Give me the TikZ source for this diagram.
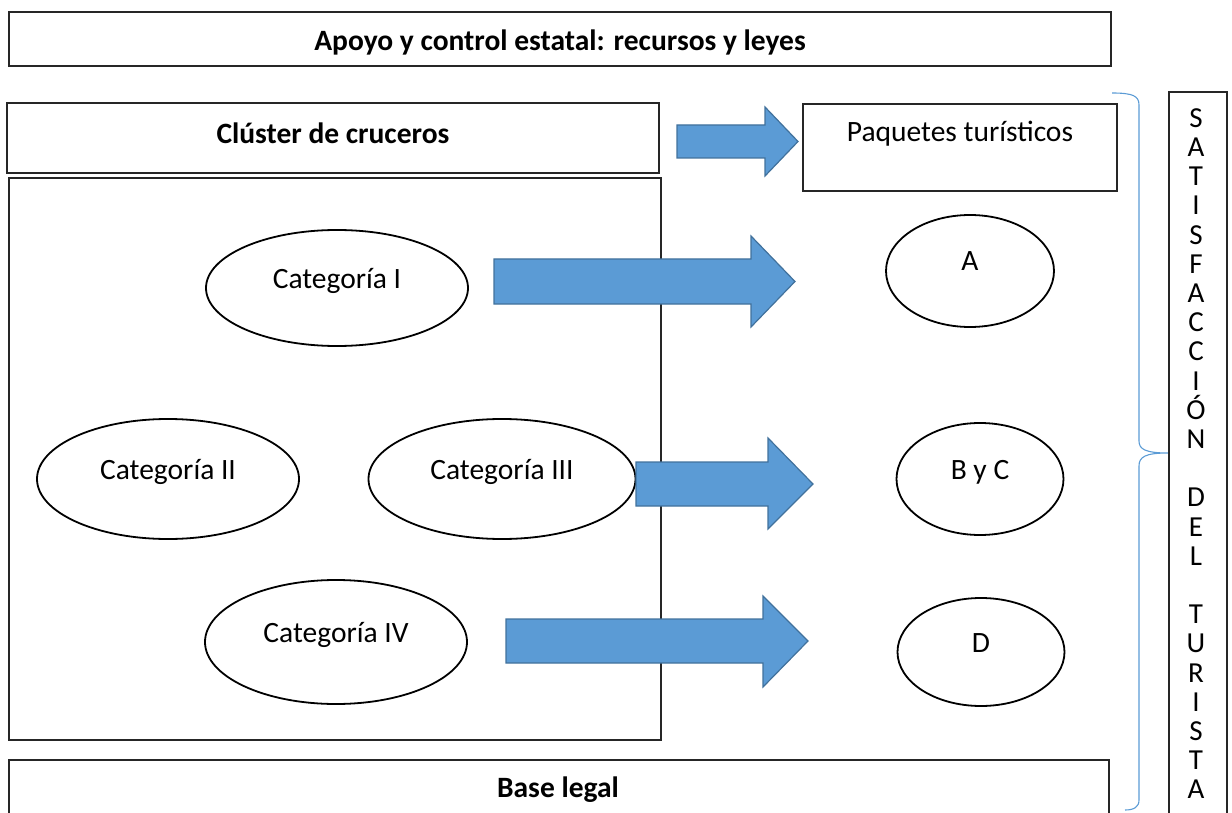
\documentclass[tikz,border=0pt]{standalone}
\usepackage{fontspec}
\setmainfont{Carlito}
\usetikzlibrary{positioning, shapes.geometric}
\definecolor{arrowblue}{RGB}{91,155,213}
\definecolor{arrowedge}{RGB}{65,113,156}

\begin{document}
\begin{tikzpicture}[
    x=1pt, y=-1pt,
    box/.style={draw=black!85, line width=1.1pt, inner sep=0pt},
    title/.style={font=\fontsize{29.5}{31}\selectfont\bfseries, anchor=base},
    label/.style={font=\fontsize{29.5}{31}\selectfont, anchor=base},
    cat/.style={ellipse, draw, line width=1.8pt, inner sep=0pt,
        font=\fontsize{29.5}{31}\selectfont, text height=9pt, text depth=9pt},
    bigarrow/.style={fill=arrowblue, draw=arrowedge, line width=1.2pt, line join=miter},
    letter/.style={font=\fontsize{29}{31}\selectfont, anchor=base},
    llave/.style={draw=arrowblue, line width=1.1pt}
]
    \useasboundingbox (0,0) rectangle (1232,813);

    % State support box
    \node[box, minimum width=1102pt, minimum height=54pt] (apoyo) at (560,39) {};
    \node[title] (apoyo_text) at (560,51) {Apoyo y control estatal: recursos y leyes};

    % Cluster
    \node[box, minimum width=652pt, minimum height=70pt] (cluster) at (333,138) {};
    \node[title] (cluster_text) at (333,144) {Clúster de cruceros};
    \node[box, minimum width=652pt, minimum height=562pt] (categorias) at (335,459) {};

    % Packages
    \node[box, minimum width=314pt, minimum height=87pt] (paquetes) at (960,147.5) {};
    \node[label] (paquetes_text) at (960,142) {Paquetes turísticos};

    % Legal base (runs off the page)
    \draw[box] (9,760) rectangle (1109,840);
    \node[title] (base_text) at (558,797) {Base legal};

    % Categories
    \node[cat, minimum width=262pt, minimum height=116pt] (cat1) at (337,288) {Categoría I};
    \node[cat, minimum width=262pt, minimum height=120pt] (cat2) at (168,479) {Categoría II};
    \node[cat, minimum width=267pt, minimum height=120pt] (cat3) at (502,479) {Categoría III};
    \node[cat, minimum width=262pt, minimum height=124pt] (cat4) at (336,642) {Categoría IV};

    % Package types
    \node[cat, minimum width=168pt, minimum height=112pt] (paqA) at (970,271) {A};
    \node[cat, minimum width=167pt, minimum height=112pt] (paqBC) at (980,479) {B y C};
    \node[cat, minimum width=167pt, minimum height=108pt] (paqD) at (981,652) {D};

    % Block arrows
    \draw[bigarrow] (677,125) -- (765,125) -- (765,107) -- (798,141.5)
        -- (765,176) -- (765,158) -- (677,158) -- cycle;
    \draw[bigarrow] (494,259) -- (751,259) -- (751,236) -- (795,281.5)
        -- (751,327) -- (751,304) -- (494,304) -- cycle;
    \draw[bigarrow] (636,462) -- (768,462) -- (768,438) -- (813,484)
        -- (768,529) -- (768,506) -- (636,506) -- cycle;
    \draw[bigarrow] (506,619) -- (763,619) -- (763,596) -- (808,641)
        -- (763,687) -- (763,663) -- (506,663) -- cycle;

    % Brace and satisfaction column
    \draw[llave] (1112,93) .. controls (1133,93) and (1139,96) .. (1139,105)
        -- (1139,441) .. controls (1139,449) and (1145,453) .. (1168,453)
        .. controls (1145,453) and (1139,457) .. (1139,466)
        -- (1139,800) .. controls (1139,807) and (1134,810) .. (1125,810);

    \draw[box] (1169,92) rectangle (1227,840);
    \foreach \ch [count=\i from 0] in {S,A,T,I,S,F,A,C,C,I,Ó,N,{},D,E,L,{},T,U,R,I,S,T,A} {
        \node[letter] (l\i) at (1196,{127.2+29.2*\i}) {\ch};
    }

\end{tikzpicture}
\end{document}
